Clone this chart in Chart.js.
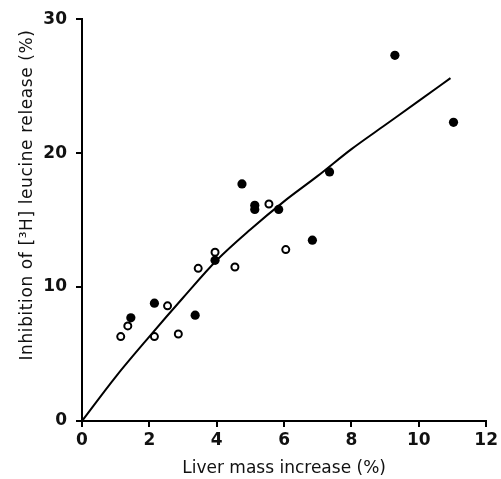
<!DOCTYPE html>
<html><head><meta charset="utf-8">
<script src="https://cdn.jsdelivr.net/npm/chart.js@4/dist/chart.umd.min.js"></script>
<style>html,body{margin:0;padding:0;background:#fff}</style>
</head><body>
<canvas id="c" width="501" height="479"></canvas>
<script>
// Open circles
const openX = [1.15, 1.36, 2.15, 2.54, 2.86, 3.45, 3.95, 4.54, 5.55, 6.05];
const openY = [6.3, 7.1, 6.3, 8.6, 6.5, 11.4, 12.6, 11.5, 16.2, 12.8];
// Filled circles
const fillX = [1.45, 2.15, 3.36, 3.95, 4.75, 5.13, 5.13, 5.84, 6.84, 7.35, 9.29, 11.03];
const fillY = [7.7, 8.8, 7.9, 12.0, 17.7, 16.1, 15.8, 15.8, 13.5, 18.6, 27.3, 22.3];
// Fitted curve
const curveX = [0, 1, 2, 3, 4, 5, 6, 7, 8, 9, 10, 10.94];
const curveY = [0, 3.3, 6.3, 9.2, 12.0, 14.3, 16.4, 18.3, 20.3, 22.1, 23.9, 25.6];
const xTicks = [0, 2, 4, 6, 8, 10, 12];
const yTicks = [0, 10, 20, 30];
const yTitle = 'Inhibition of [\u00B3H] leucine release (%)';
const xTitle = 'Liver mass increase (%)';

const pts = (xs, ys) => xs.map((x, i) => ({x, y: ys[i]}));

const yTitlePlugin = {
  id: 'yTitle',
  afterDraw(chart) {
    const ctx = chart.ctx;
    ctx.save();
    ctx.font = '17px "DejaVu Sans"';
    ctx.fillStyle = '#111';
    ctx.letterSpacing = '0.6px';
    ctx.textAlign = 'center';
    ctx.textBaseline = 'middle';
    ctx.translate(28, 195);
    ctx.rotate(-Math.PI / 2);
    ctx.fillText(yTitle, 0, 0);
    ctx.restore();
  }
};

new Chart(document.getElementById('c'), {
  type: 'scatter',
  data: {
    datasets: [
      {data: pts(curveX, curveY), showLine: true, borderColor: '#000', borderWidth: 2,
       pointRadius: 0, cubicInterpolationMode: 'monotone', fill: false},
      {data: pts(openX, openY), pointRadius: 3.5, pointBorderWidth: 2,
       pointBorderColor: '#000', pointBackgroundColor: '#fff'},
      {data: pts(fillX, fillY), pointRadius: 4.6, pointBorderWidth: 0,
       pointBorderColor: '#000', pointBackgroundColor: '#000'}
    ]
  },
  options: {
    responsive: false, animation: false,
    layout: {padding: {top: 18, right: 12, bottom: 0, left: 0}},
    plugins: {legend: {display: false}, tooltip: {enabled: false}},
    scales: {
      x: {
        type: 'linear', min: 0, max: 12,
        afterBuildTicks: s => { s.ticks = xTicks.map(v => ({value: v})); },
        afterFit: s => { s.height = 58; },
        border: {display: true, color: '#000', width: 2},
        grid: {drawOnChartArea: false, color: '#000', lineWidth: 2, tickLength: 6},
        ticks: {color: '#111', font: {family: 'DejaVu Sans', size: 17, weight: 'bold'}, padding: 3, maxRotation: 0},
        title: {display: true, text: xTitle, color: '#111',
                font: {family: 'DejaVu Sans', size: 17}, padding: {top: 0, bottom: 0}}
      },
      y: {
        type: 'linear', min: 0, max: 30,
        afterBuildTicks: s => { s.ticks = yTicks.map(v => ({value: v})); },
        afterFit: s => { s.width = 82; },
        border: {display: true, color: '#000', width: 2},
        grid: {drawOnChartArea: false, color: '#000', lineWidth: 2, tickLength: 6},
        ticks: {color: '#111', font: {family: 'DejaVu Sans', size: 17, weight: 'bold'}, padding: 9}
      }
    }
  },
  plugins: [yTitlePlugin]
});
</script>
</body></html>
